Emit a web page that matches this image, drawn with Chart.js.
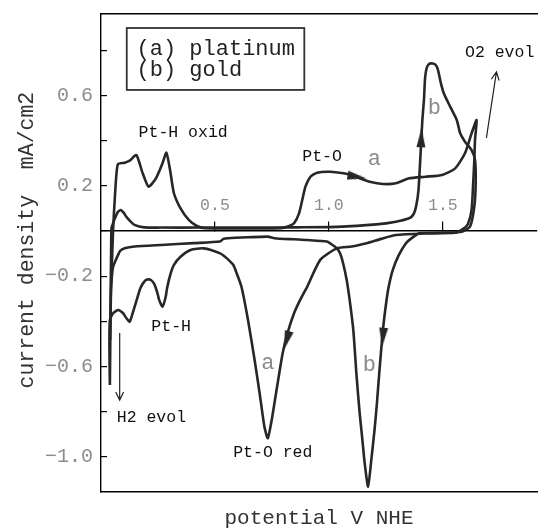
<!DOCTYPE html>
<html>
<head>
<meta charset="utf-8">
<script src="https://cdn.jsdelivr.net/npm/chart.js@4.4.0/dist/chart.umd.min.js"></script>
<style>
  body { margin: 0; background: #fff; }
  canvas { display: block; }
</style>
</head>
<body>
<canvas id="cv" width="543" height="529"></canvas>
<script>
// (a) platinum: potential (V NHE) and current density (mA/cm2), one closed sweep
const ptV = [0.039, 0.043, 0.053, 0.061, 0.068, 0.075, 0.104, 0.126, 0.155, 0.183,
  0.209, 0.241, 0.270, 0.287, 0.303, 0.320, 0.349, 0.385, 0.421, 0.458,
  0.645, 0.788, 0.826, 0.847, 0.869, 0.883, 0.897, 0.919, 0.948, 1.006,
  1.064, 1.107, 1.135, 1.179, 1.237, 1.294, 1.352, 1.424, 1.497, 1.554,
  1.597, 1.626, 1.648, 1.641, 1.638, 1.633, 1.626, 1.610, 1.589, 1.554,
  1.424, 1.294, 1.229, 1.165, 1.100, 1.035, 0.962, 0.905, 0.874, 0.847,
  0.818, 0.797, 0.768, 0.749, 0.732, 0.717, 0.696, 0.674, 0.645, 0.616,
  0.593, 0.580, 0.550, 0.523, 0.450, 0.393, 0.349, 0.320, 0.306, 0.290,
  0.284, 0.270, 0.255, 0.248, 0.234, 0.219, 0.203, 0.190, 0.173, 0.161,
  0.143, 0.126, 0.111, 0.097, 0.075, 0.053, 0.039, 0.037, 0.039]
const ptI = [-0.681, -0.305, 0.004, 0.152, 0.255, 0.296, 0.302, 0.311, 0.336, 0.255,
  0.196, 0.233, 0.300, 0.346, 0.270, 0.167, 0.100, 0.049, 0.022, 0.012,
  0.011, 0.012, 0.022, 0.034, 0.078, 0.137, 0.196, 0.240, 0.258, 0.262,
  0.255, 0.245, 0.233, 0.218, 0.208, 0.211, 0.233, 0.240, 0.248, 0.277,
  0.344, 0.432, 0.491, 0.403, 0.314, 0.211, 0.093, 0.031, 0.009, -0.008,
  -0.011, -0.018, -0.035, -0.054, -0.069, -0.077, -0.128, -0.246, -0.305, -0.364,
  -0.453, -0.541, -0.718, -0.836, -0.917, -0.866, -0.718, -0.571, -0.394, -0.246,
  -0.181, -0.150, -0.119, -0.099, -0.077, -0.084, -0.114, -0.150, -0.187, -0.252,
  -0.291, -0.335, -0.305, -0.276, -0.235, -0.217, -0.215, -0.224, -0.252, -0.291,
  -0.350, -0.401, -0.385, -0.364, -0.350, -0.364, -0.394, -0.527, -0.681]

// (b) gold
const auV = [0.040, 0.044, 0.046, 0.052, 0.061, 0.074, 0.087, 0.100, 0.111, 0.126,
  0.147, 0.190, 0.263, 0.429, 0.645, 0.861, 1.035, 1.208, 1.294, 1.352,
  1.372, 1.383, 1.393, 1.403, 1.410, 1.417, 1.422, 1.429, 1.439, 1.455,
  1.468, 1.476, 1.482, 1.491, 1.504, 1.532, 1.561, 1.576, 1.597, 1.626,
  1.641, 1.644, 1.638, 1.619, 1.583, 1.511, 1.424, 1.396, 1.359, 1.338,
  1.307, 1.280, 1.262, 1.251, 1.237, 1.222, 1.210, 1.200, 1.186, 1.172,
  1.157, 1.147, 1.135, 1.121, 1.107, 1.091, 1.078, 1.063, 1.049, 1.035,
  1.013, 0.991, 0.905, 0.847, 0.761, 0.732, 0.645, 0.558, 0.537, 0.522,
  0.407, 0.263, 0.147, 0.104, 0.084, 0.075, 0.063, 0.053, 0.046, 0.043,
  0.040]
const auI = [-0.482, -0.128, 0.012, 0.031, 0.056, 0.084, 0.093, 0.080, 0.063, 0.046,
  0.027, 0.016, 0.015, 0.015, 0.015, 0.016, 0.018, 0.029, 0.041, 0.056,
  0.075, 0.111, 0.181, 0.358, 0.491, 0.580, 0.677, 0.721, 0.739, 0.741,
  0.735, 0.721, 0.698, 0.655, 0.609, 0.550, 0.491, 0.432, 0.395, 0.358,
  0.314, 0.211, 0.108, 0.019, -0.003, -0.007, -0.009, -0.010, -0.035, -0.054,
  -0.106, -0.173, -0.248, -0.320, -0.438, -0.615, -0.770, -0.881, -1.013, -1.131,
  -1.028, -0.925, -0.807, -0.637, -0.438, -0.305, -0.217, -0.146, -0.099, -0.077,
  -0.060, -0.047, -0.040, -0.037, -0.032, -0.025, -0.028, -0.032, -0.035, -0.047,
  -0.054, -0.062, -0.069, -0.077, -0.088, -0.106, -0.133, -0.158, -0.217, -0.261,
  -0.482]

// sweep direction arrows: where they sit and which way they point (deg, 0 = up)
const arrowV = [1.121, 1.405, 0.815, 1.237]
const arrowI = [0.240, 0.410, -0.482, -0.468]
const arrowDir = [100, 2, 196, 185]

const xTicks = [0.5, 1.0, 1.5]
const yTicks = [-1.0, -0.8, -0.6, -0.4, -0.2, 0, 0.2, 0.4, 0.6, 0.8]
const yLabels = [0.6, 0.2, -0.2, -0.6, -1.0]
const legendText = ['(a) platinum', '(b) gold']

const X_MIN = 0, X_MAX = 1.913, Y_MIN = -1.155, Y_MAX = 0.96
const INK = '#272727'
const FONT = '"Liberation Mono", "DejaVu Sans Mono", monospace'
Chart.defaults.font.family = FONT

function pts(xs, ys) {
    return xs.map((v, i) => ({x: v, y: ys[i]}))
}

function arrowHead() {
    let c = document.createElement('canvas')
    c.width = 10
    c.height = 20
    let g = c.getContext('2d')
    g.fillStyle = INK
    g.beginPath()
    g.moveTo(5, 0)
    g.lineTo(9.5, 19)
    g.lineTo(0.5, 19)
    g.closePath()
    g.fill()
    return c
}

// no layout padding from tick labels, the plot box is fixed
function noPad(s) {
    s.paddingTop = 0
    s.paddingBottom = 0
    s.paddingLeft = 0
    s.paddingRight = 0
}

// text notes and thin pointer arrows, placed in data units
const notes = [
    {t: 'Pt-H oxid', x: 0.165, y: 0.434, size: 16.5, color: '#111'},
    {t: 'Pt-O', x: 0.883, y: 0.327, size: 16.5, color: '#111'},
    {t: 'O2 evol', x: 1.597, y: 0.788, size: 16.5, color: '#111'},
    {t: 'Pt-H', x: 0.221, y: -0.425, size: 16.5, color: '#111'},
    {t: 'H2 evol', x: 0.069, y: -0.827, size: 16.5, color: '#111'},
    {t: 'Pt-O red', x: 0.580, y: -0.982, size: 16.5, color: '#111'},
    {t: 'a', x: 1.199, y: 0.319, size: 22, color: '#8a8a8a', center: true},
    {t: 'b', x: 1.463, y: 0.543, size: 22, color: '#8a8a8a', center: true},
    {t: 'a', x: 0.732, y: -0.584, size: 22, color: '#8a8a8a', center: true},
    {t: 'b', x: 1.177, y: -0.593, size: 22, color: '#8a8a8a', center: true}
]
const pointers = [
    {x0: 1.691, y0: 0.412, x1: 1.735, y1: 0.704},
    {x0: 0.082, y0: -0.451, x1: 0.082, y1: -0.748}
]

const extras = {
    id: 'extras',
    afterDatasetsDraw(chart) {
        let {ctx, scales} = chart
        let px = v => scales.x.getPixelForValue(v)
        let py = v => scales.y.getPixelForValue(v)
        ctx.save()

        // legend box
        ctx.strokeStyle = '#333'
        ctx.lineWidth = 1.8
        ctx.strokeRect(px(0.113), py(0.898), px(0.892) - px(0.113), py(0.624) - py(0.898))
        ctx.fillStyle = '#222'
        ctx.font = '22px ' + FONT
        ctx.textBaseline = 'middle'
        ctx.textAlign = 'left'
        ctx.fillText(legendText[0], px(0.156), py(0.805))
        ctx.fillText(legendText[1], px(0.156), py(0.712))

        notes.forEach(n => {
            ctx.font = n.size + 'px ' + FONT
            ctx.fillStyle = n.color
            ctx.textAlign = n.center ? 'center' : 'left'
            ctx.fillText(n.t, px(n.x), py(n.y))
        })

        ctx.strokeStyle = '#222'
        ctx.lineWidth = 1.2
        pointers.forEach(p => {
            let x0 = px(p.x0), y0 = py(p.y0), x1 = px(p.x1), y1 = py(p.y1)
            let a = Math.atan2(y1 - y0, x1 - x0)
            ctx.beginPath()
            ctx.moveTo(x0, y0)
            ctx.lineTo(x1, y1)
            ctx.moveTo(x1 - 9 * Math.cos(a - 0.45), y1 - 9 * Math.sin(a - 0.45))
            ctx.lineTo(x1, y1)
            ctx.lineTo(x1 - 9 * Math.cos(a + 0.45), y1 - 9 * Math.sin(a + 0.45))
            ctx.stroke()
        })
        ctx.restore()
    }
}

new Chart(document.getElementById('cv'), {
    type: 'scatter',
    data: {
        datasets: [{
            label: 'platinum',
            data: pts(ptV, ptI),
            showLine: true,
            borderColor: INK,
            borderWidth: 2.6,
            pointRadius: 0,
            tension: 0.2,
            xAxisID: 'x',
            yAxisID: 'y'
        }, {
            label: 'gold',
            data: pts(auV, auI),
            showLine: true,
            borderColor: INK,
            borderWidth: 2.6,
            pointRadius: 0,
            tension: 0.2,
            xAxisID: 'x',
            yAxisID: 'y'
        }, {
            label: 'arrows',
            data: pts(arrowV, arrowI),
            showLine: false,
            pointStyle: arrowHead(),
            pointRadius: 5,
            pointRotation: c => arrowDir[c.dataIndex],
            xAxisID: 'x',
            yAxisID: 'y'
        }]
    },
    options: {
        responsive: false,
        animation: false,
        events: [],
        layout: {padding: 0},
        plugins: {legend: {display: false}, tooltip: {enabled: false}},
        scales: {
            x: {
                type: 'linear',
                min: X_MIN,
                max: X_MAX,
                position: {y: 0},
                afterBuildTicks: s => { s.ticks = xTicks.map(v => ({value: v})) },
                afterFit: noPad,
                border: {color: '#000', width: 1.4},
                grid: {drawOnChartArea: false, tickLength: -10, color: '#000', lineWidth: 1.2},
                ticks: {
                    padding: -25,
                    color: '#8c8c8c',
                    font: {size: 16.5},
                    callback: v => v.toFixed(1)
                }
            },
            xt: {
                type: 'linear',
                axis: 'x',
                position: 'top',
                min: X_MIN,
                max: X_MAX,
                afterFit: s => { s.height = 14; noPad(s) },
                border: {color: '#000', width: 1.4},
                grid: {display: false},
                ticks: {display: false}
            },
            xb: {
                type: 'linear',
                axis: 'x',
                position: 'bottom',
                min: X_MIN,
                max: X_MAX,
                afterFit: s => { s.height = 37; noPad(s) },
                border: {color: '#000', width: 1.4},
                grid: {display: false},
                ticks: {display: false},
                title: {
                    display: true,
                    text: 'potential V NHE',
                    color: '#333',
                    font: {size: 21, lineHeight: 1},
                    padding: {top: 0, bottom: 0}
                }
            },
            y: {
                type: 'linear',
                position: 'left',
                min: Y_MIN,
                max: Y_MAX,
                afterFit: s => { s.width = 101; noPad(s) },
                afterBuildTicks: s => { s.ticks = yTicks.map(v => ({value: v})) },
                border: {color: '#000', width: 1.4},
                grid: {drawOnChartArea: false, tickLength: -6, color: '#000', lineWidth: 1.2},
                ticks: {
                    padding: 14,
                    color: '#8c8c8c',
                    font: {size: 20},
                    callback: v => yLabels.some(l => Math.abs(l - v) < 1e-6) ? v.toFixed(1).replace('-', '\u2212') : ''
                },
                title: {
                    display: true,
                    text: '  current density  mA/cm2',
                    color: '#333',
                    font: {size: 21.5, lineHeight: 1.2},
                    padding: {top: 14, bottom: 0}
                }
            }
        }
    },
    plugins: [extras]
});
</script>
</body>
</html>
